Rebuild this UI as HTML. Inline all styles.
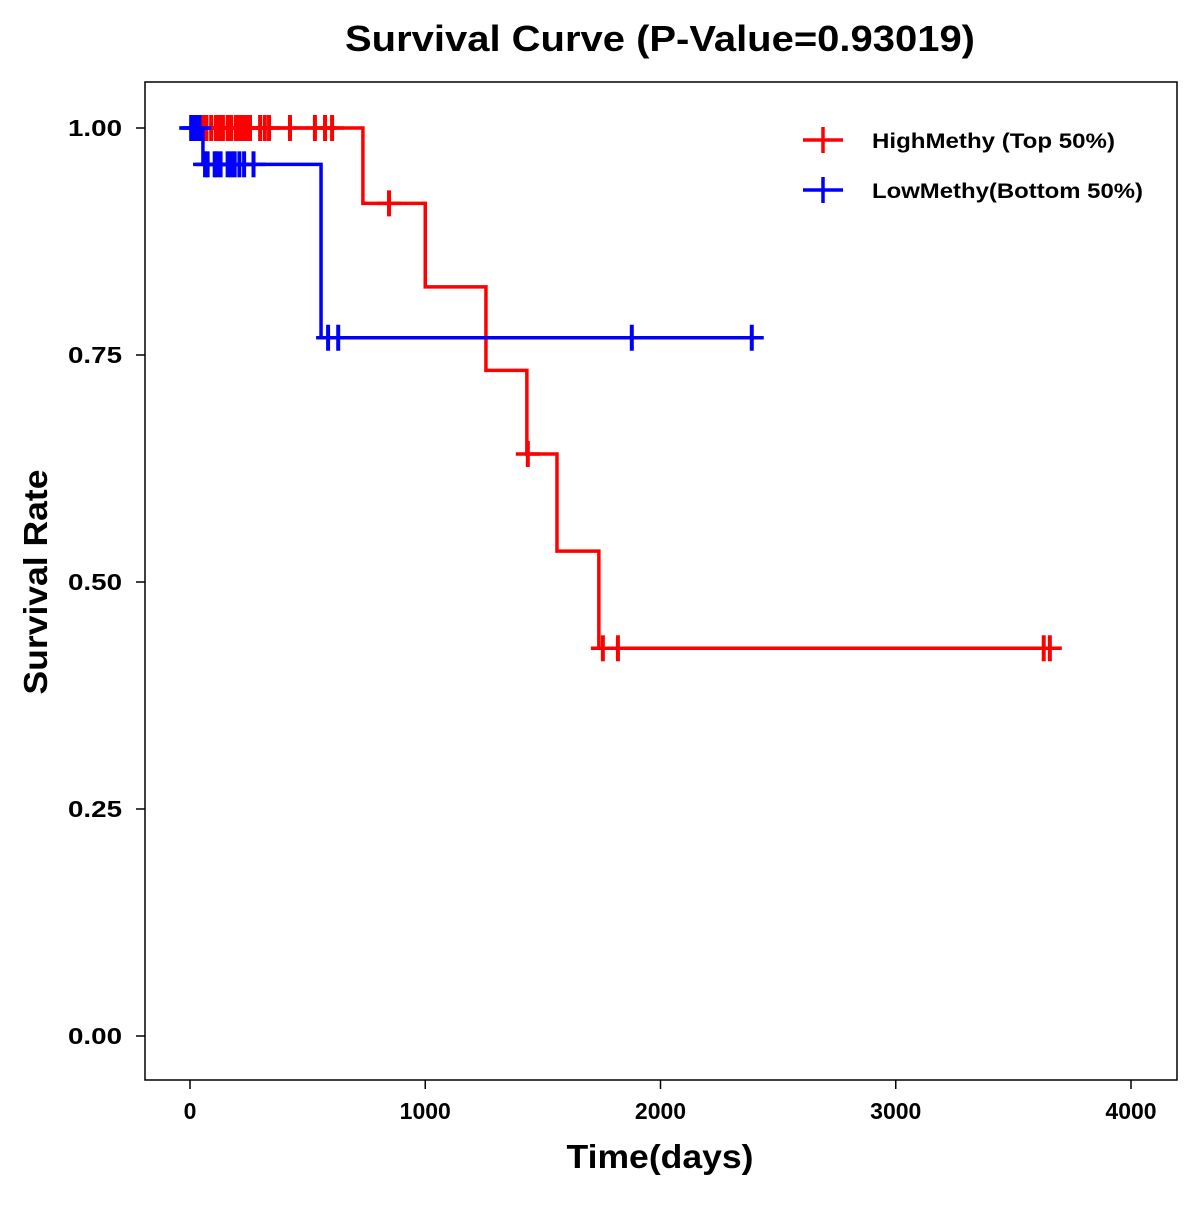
<!DOCTYPE html>
<html><head><meta charset="utf-8"><style>
body{margin:0;background:#fff;}
svg text{font-family:"Liberation Sans",Arial,sans-serif;font-weight:bold;}
</style></head><body>
<svg id="chart" width="1200" height="1200" viewBox="0 0 1200 1200">
<rect width="1200" height="1200" fill="#fff"/>
<text x="660" y="51" font-size="36" text-anchor="middle" textLength="630" lengthAdjust="spacingAndGlyphs">Survival Curve (P-Value=0.93019)</text>
<rect x="145" y="82" width="1032" height="998" fill="none" stroke="#000" stroke-width="1.5"/>
<g id="axes"></g>
<g id="series"></g>
<text x="660" y="1168" font-size="33" text-anchor="middle" textLength="187" lengthAdjust="spacingAndGlyphs">Time(days)</text>
<text transform="translate(47,582) rotate(-90)" font-size="33" text-anchor="middle" textLength="225" lengthAdjust="spacingAndGlyphs">Survival Rate</text>
<g>
<g>
<line x1="803" y1="140" x2="843" y2="140" stroke="#ff0000" stroke-width="3.5"/><line x1="823" y1="127" x2="823" y2="153" stroke="#ff0000" stroke-width="3.5"/>
<text x="872" y="148" font-size="21" textLength="243" lengthAdjust="spacingAndGlyphs">HighMethy (Top 50%)</text></g>
<g>
<line x1="803" y1="190" x2="843" y2="190" stroke="#0000ff" stroke-width="3.5"/><line x1="823" y1="177" x2="823" y2="203" stroke="#0000ff" stroke-width="3.5"/>
<text x="872" y="198" font-size="21" textLength="271" lengthAdjust="spacingAndGlyphs">LowMethy(Bottom 50%)</text></g>
</g>
</svg>
<script>
const xTicks=[0,1000,2000,3000,4000];
const yTicks=[0,0.25,0.5,0.75,1.0];
const yTickLabels=["0.00","0.25","0.50","0.75","1.00"];
const highTimes=[0,735,1000,1258,1432,1560,1738,3655];
const highSurv=[1.0,0.917,0.825,0.733,0.641,0.534,0.427,0.427];
const highCensor=[[10,1],[55,1],[70,1],[90,1],[110,1],[125,1],[140,1],[160,1],[175,1],[195,1],[210,1],[225,1],[240,1],[255,1],[298,1],[318,1],[336,1],[425,1],[531,1],[574,1],[604,1],[846,0.917],[1436,0.641],[1755,0.427],[1819,0.427],[3629,0.427],[3655,0.427]];
const lowTimes=[0,55,557,2388];
const lowSurv=[1.0,0.96,0.769,0.769];
const lowCensor=[[5,1],[15,1],[25,1],[40,1],[64,0.96],[75,0.96],[105,0.96],[115,0.96],[130,0.96],[160,0.96],[175,0.96],[190,0.96],[210,0.96],[230,0.96],[270,0.96],[587,0.769],[630,0.769],[1878,0.769],[2388,0.769]];
const X=d=>190+d*0.23525, Y=v=>1036-v*908;
const NS="http://www.w3.org/2000/svg";
const axes=document.getElementById('axes'), ser=document.getElementById('series');
function mk(tag,attrs,parent){const e=document.createElementNS(NS,tag);for(const k in attrs)e.setAttribute(k,attrs[k]);parent.appendChild(e);return e;}
xTicks.forEach(t=>{
 const l=mk('line',{x1:X(t),x2:X(t),y1:1080,y2:1089,stroke:'#000','stroke-width':1.5},axes);
 
 
 const tx=mk('text',{x:X(t),y:1119,'font-size':23,'text-anchor':'middle'},axes);tx.textContent=t;
 
 
});
yTicks.forEach((t,i)=>{
 const l=mk('line',{x1:136,x2:145,y1:Y(t),y2:Y(t),stroke:'#000','stroke-width':1.5},axes);
 
 
 const tx=mk('text',{x:122,y:Y(t)+8,'font-size':23,'text-anchor':'end',textLength:54,lengthAdjust:'spacingAndGlyphs'},axes);tx.textContent=yTickLabels[i];
 
 
});
function draw(times,surv,cens,color,name){
 let d=`M${X(times[0])},${Y(surv[0])}`;
 for(let i=1;i<times.length;i++){d+=` H${X(times[i])} V${Y(surv[i])}`;}
 const p=mk('path',{d:d,fill:'none',stroke:color,'stroke-width':3.5},ser);
 
 
 cens.forEach(c=>{
  const g=mk('g',{},ser);
  
  
  mk('line',{x1:X(c[0])-12,x2:X(c[0])+12,y1:Y(c[1]),y2:Y(c[1]),stroke:color,'stroke-width':3.5},g);
  mk('line',{x1:X(c[0]),x2:X(c[0]),y1:Y(c[1])-13,y2:Y(c[1])+13,stroke:color,'stroke-width':4},g);
 });
}
draw(highTimes,highSurv,highCensor,'#ff0000','high-methy');
draw(lowTimes,lowSurv,lowCensor,'#0000ff','low-methy');
</script>
</body></html>
